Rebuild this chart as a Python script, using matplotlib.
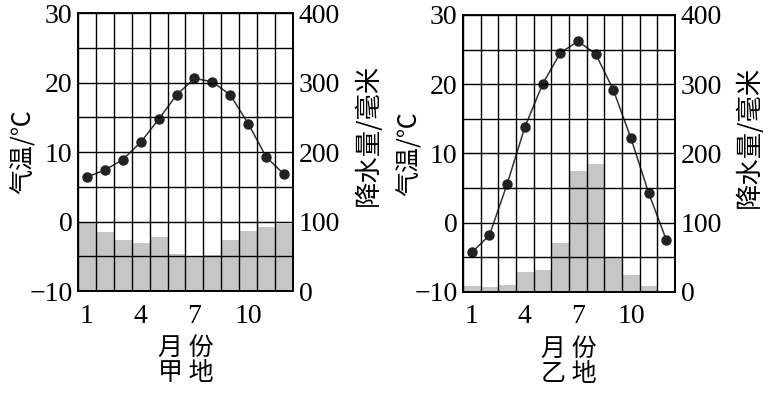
import matplotlib.pyplot as plt

plt.rcParams['font.family'] = ['Liberation Serif', 'Noto Sans CJK SC', 'DejaVu Sans']

months = list(range(1, 13))
month_ticks = [1, 4, 7, 10]

temp_jia = [6.4, 7.4, 8.9, 11.4, 14.7, 18.2, 20.6, 20.1, 18.2, 14.1, 9.3, 6.8]
rain_jia = [99, 85, 74, 69, 77, 53, 51, 52, 73, 87, 92, 96]

temp_yi = [-4.3, -1.8, 5.6, 13.8, 20.0, 24.5, 26.2, 24.4, 19.2, 12.2, 4.3, -2.5]
rain_yi = [8, 7, 10, 29, 31, 70, 174, 185, 50, 25, 8, 2]

temp_ticks = [-10, 0, 10, 20, 30]
temp_tick_labels = ['\u221210', '0', '10', '20', '30']
rain_ticks = [0, 100, 200, 300, 400]

cjk = ['Noto Sans CJK SC', 'DejaVu Sans']


def panel(fig, rect, temps, rains, name):
    ax = fig.add_axes(rect)
    ax2 = ax.twinx()
    ax2.bar(months, rains, width=1.0, color='#c6c6c6', edgecolor='none')
    ax2.set_ylim(0, 400)
    ax2.set_yticks(rain_ticks)
    ax2.tick_params(length=0, labelsize=20, pad=4)

    ax.set_zorder(ax2.get_zorder() + 1)
    ax.patch.set_visible(False)
    ax.plot(months, temps, color='#333333', lw=1.1)
    ax.plot(months, temps, 'o', color='#222222', ms=6.5)
    ax.set_xlim(0.5, 12.5)
    ax.set_ylim(-10, 30)
    for x in [m + 0.5 for m in range(0, 13)]:
        ax.axvline(x, color='black', lw=1.0)
    for y in range(-10, 31, 5):
        ax.axhline(y, color='black', lw=1.0)
    ax.set_xticks(month_ticks)
    ax.set_yticks(temp_ticks)
    ax.set_yticklabels(temp_tick_labels)
    ax.tick_params(axis='y', length=0, labelsize=20, pad=4)
    ax.tick_params(axis='x', length=0, labelsize=20, pad=9)
    for sp in list(ax.spines.values()) + list(ax2.spines.values()):
        sp.set_linewidth(1.2)

    # label ends are anchored at these axes positions
    ax.set_ylabel('气温/℃', family=cjk, fontsize=18)
    ax.yaxis.set_label_coords(-0.19, 0.5)
    ax2.set_ylabel('降水量/毫米', family=cjk, fontsize=19)
    ax2.yaxis.set_label_coords(1.285, 0.56)
    ax.text(0.5, -0.205, '月 份', transform=ax.transAxes, family=cjk,
            fontsize=18, ha='center', va='center')
    ax.text(0.5, -0.295, name, transform=ax.transAxes, family=cjk,
            fontsize=18, ha='center', va='center')
    return ax


fig = plt.figure(figsize=(7.69, 3.94), dpi=100)
panel(fig, [0.1014, 0.2614, 0.2796, 0.7056], temp_jia, rain_jia, '甲 地')
panel(fig, [0.602, 0.259, 0.276, 0.703], temp_yi, rain_yi, '乙 地')
fig.savefig('out.png', dpi=100)
